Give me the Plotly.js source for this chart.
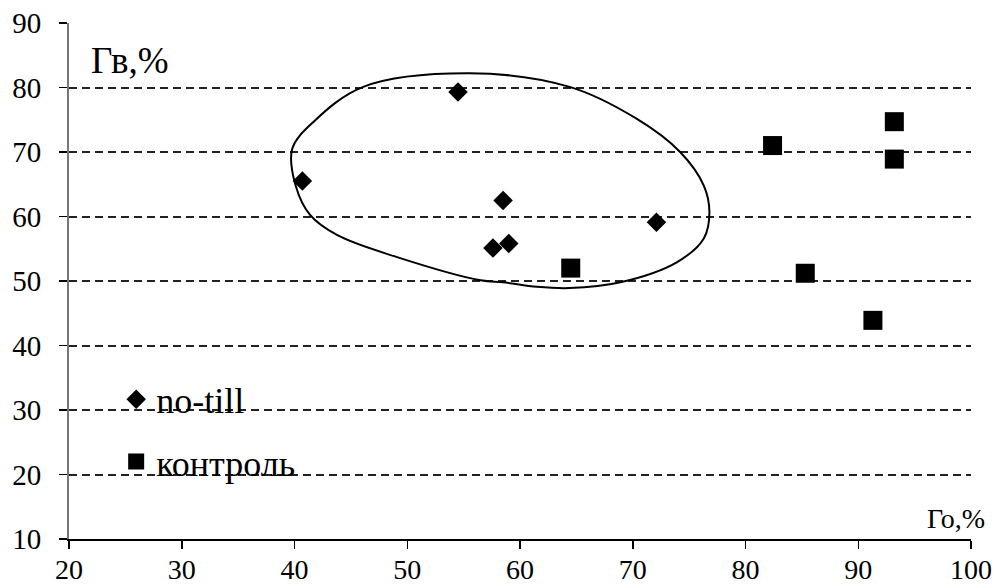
<!DOCTYPE html>
<html>
<head>
<meta charset="utf-8">
<script src="https://cdn.plot.ly/plotly-3.0.1.min.js"></script>
<style>html,body{margin:0;padding:0;background:#fff;}#chart{width:998px;height:585px;}</style>
</head>
<body>
<div id="chart"></div>
<script>
// no-till points
const noTillX = [54.5, 40.7, 58.5, 72.1, 57.6, 59.0];
const noTillY = [79.3, 65.5, 62.5, 59.1, 55.1, 55.8];
// control points
const controlX = [64.5, 82.4, 93.2, 93.2, 85.3, 91.3];
const controlY = [52.0, 71.0, 74.7, 68.9, 51.2, 43.9];
// hand-drawn outline around the no-till group
const outlineX = [55.5, 64.4, 70.3, 74.2, 76.3, 76.8, 76.3, 73.9, 68.9, 64.4, 61.5, 58.5, 56.5, 49.1, 43.8, 41.4, 40.1, 39.8, 41.7, 46.1, 55.5];
const outlineY = [82.2, 80.1, 75.2, 70.0, 64.8, 60.7, 56.6, 52.9, 49.8, 48.9, 49.1, 49.8, 50.1, 53.7, 57.1, 60.2, 64.8, 70.5, 74.7, 80.1, 82.2];
const seriesNames = ["no-till", "контроль"];
const xTicks = [20, 30, 40, 50, 60, 70, 80, 90, 100];
const yTicks = [10, 20, 30, 40, 50, 60, 70, 80, 90];
const xTitle = "Го,%";
const yTitle = "Гв,%";

const serif = "Liberation Serif";

const traces = [
  {x: outlineX, y: outlineY, mode: "lines", line: {color: "#000", width: 2, shape: "spline", smoothing: 1}, showlegend: false, hoverinfo: "skip"},
  {x: noTillX, y: noTillY, mode: "markers", name: seriesNames[0], marker: {symbol: "diamond", size: 15, color: "#000"}, legend: "legend"},
  {x: controlX, y: controlY, mode: "markers", name: seriesNames[1], marker: {symbol: "square", size: 19, color: "#000"}, legend: "legend2"}
];

const legendCommon = {xanchor: "left", yanchor: "middle", bgcolor: "rgba(0,0,0,0)", font: {family: serif, size: 36, color: "#000"}, itemwidth: 30, tracegroupgap: 0};

const layout = {
  width: 998, height: 585,
  margin: {l: 69, r: 27, t: 23, b: 46},
  paper_bgcolor: "#fff", plot_bgcolor: "#fff",
  font: {family: serif, color: "#000"},
  xaxis: {
    range: [20, 100], tickvals: xTicks, ticktext: xTicks.map(String),
    showgrid: false, zeroline: false,
    showline: true, linecolor: "#000", linewidth: 1.5,
    ticks: "outside", ticklen: 8, tickwidth: 1.5, tickcolor: "#000",
    tickfont: {family: serif, size: 28, color: "#000"}, ticklabelstandoff: -3,
    fixedrange: true
  },
  yaxis: {
    range: [10, 90], tickvals: yTicks, ticktext: yTicks.map(String),
    showgrid: true, gridcolor: "#222", gridwidth: 2, griddash: "8px,5px",
    zeroline: false,
    showline: true, linecolor: "#777", linewidth: 2,
    ticks: "outside", ticklen: 8, tickwidth: 1.5, tickcolor: "#000",
    tickfont: {family: serif, size: 29, color: "#000"}, ticklabelstandoff: 12,
    fixedrange: true
  },
  legend: Object.assign({}, legendCommon, {x: 0.0523, y: 0.2705}),
  legend2: Object.assign({}, legendCommon, {x: 0.0523, y: 0.150}),
  annotations: [
    {text: yTitle, xref: "paper", yref: "paper", x: 0.0225, y: 0.928, xanchor: "left", yanchor: "middle", showarrow: false, font: {family: serif, size: 37, color: "#000"}},
    {text: xTitle, xref: "paper", yref: "paper", x: 1.0177, y: 0.0397, xanchor: "right", yanchor: "middle", showarrow: false, font: {family: serif, size: 28, color: "#000"}}
  ],
  showlegend: true
};

Plotly.newPlot("chart", traces, layout, {staticPlot: true, displayModeBar: false});
</script>
</body>
</html>
